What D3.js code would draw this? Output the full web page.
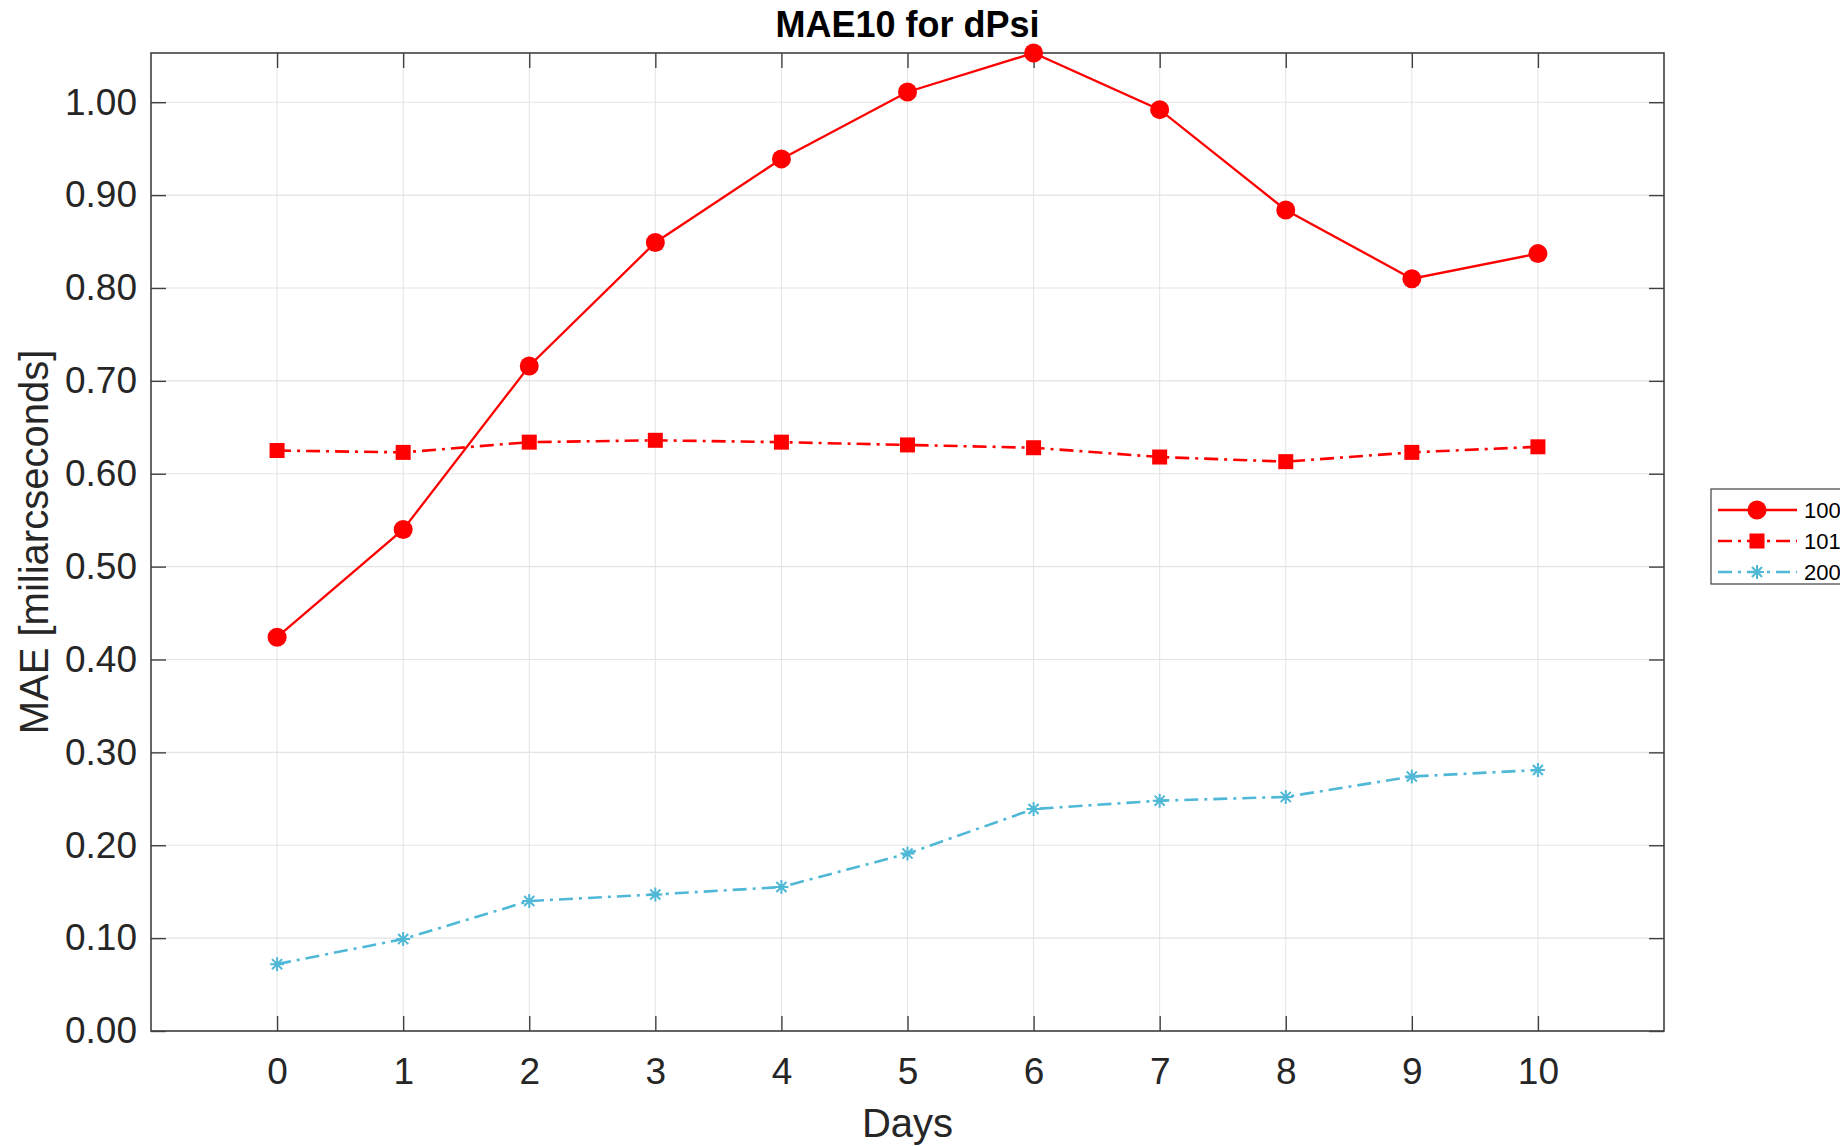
<!DOCTYPE html>
<html>
  <head>
    <script src="https://d3js.org/d3.v7.min.js"></script>
    <style>
      body { margin: 0; background: #fff; }
      svg { display: block; font-family: "Liberation Sans", Arial, Helvetica, sans-serif; }
    </style>
  </head>
  <body>
    <svg width="1840" height="1146"></svg>
    <script>
      var days = [0, 1, 2, 3, 4, 5, 6, 7, 8, 9, 10];
      var s100 = [0.424, 0.540, 0.716, 0.849, 0.939, 1.011, 1.053, 0.992, 0.884, 0.810, 0.837];
      var s101 = [0.625, 0.623, 0.634, 0.636, 0.634, 0.631, 0.628, 0.618, 0.613, 0.623, 0.629];
      var s200 = [0.072, 0.099, 0.140, 0.147, 0.155, 0.191, 0.239, 0.248, 0.252, 0.274, 0.281];
      var seriesNames = ['100', '101', '200'];
      var yTicks = [0, 0.1, 0.2, 0.3, 0.4, 0.5, 0.6, 0.7, 0.8, 0.9, 1.0];

      // plot box (window.top is read-only, so no "top" variable)
      var pL = 151, pR = 1664, pT = 53, pB = 1031;
      var axisColor = '#404040', gridColor = '#e3e3e3';
      var red = '#ff0000', cyan = '#4fb8d6';

      var svg = d3.select('svg');
      svg.append('rect').attr('width', 1840).attr('height', 1146).attr('fill', '#fff');

      var x = d3.scaleLinear().domain([-1, 11]).range([pL, pR]);
      var y = d3.scaleLinear().domain([0, d3.max(s100)]).range([pB, pT]);

      // grid
      svg.append('g').selectAll('line').data(days).enter().append('line')
        .attr('x1', d => x(d)).attr('x2', d => x(d))
        .attr('y1', pT).attr('y2', pB)
        .attr('stroke', gridColor).attr('stroke-width', 1);
      svg.append('g').selectAll('line').data(yTicks).enter().append('line')
        .attr('x1', pL).attr('x2', pR)
        .attr('y1', d => y(d)).attr('y2', d => y(d))
        .attr('stroke', gridColor).attr('stroke-width', 1.2);

      // axes (ticks inward, box with ticks on all sides)
      var tl = 15;
      var xb = d3.axisBottom(x).tickValues(days).tickSize(-tl).tickPadding(27).tickFormat(d3.format('d'));
      var xt = d3.axisTop(x).tickValues(days).tickSize(-tl).tickFormat('');
      var yl = d3.axisLeft(y).tickValues(yTicks).tickSize(-tl).tickPadding(14).tickFormat(d3.format('.2f'));
      var yr = d3.axisRight(y).tickValues(yTicks).tickSize(-tl).tickFormat('');

      function styleAxis(g) {
        g.selectAll('path').remove();
        g.selectAll('line').attr('stroke', axisColor).attr('stroke-width', 1.4);
        g.selectAll('text').attr('fill', '#262626').style('font-size', '37px')
          .style('font-family', '"Liberation Sans", Arial, sans-serif');
      }
      svg.append('g').attr('transform', 'translate(0,' + pB + ')').call(xb).call(styleAxis);
      svg.append('g').attr('transform', 'translate(0,' + pT + ')').call(xt).call(styleAxis);
      svg.append('g').attr('transform', 'translate(' + pL + ',0)').call(yl).call(styleAxis);
      svg.append('g').attr('transform', 'translate(' + pR + ',0)').call(yr).call(styleAxis);

      svg.append('rect').attr('x', pL).attr('y', pT)
        .attr('width', pR - pL).attr('height', pB - pT)
        .attr('fill', 'none').attr('stroke', axisColor).attr('stroke-width', 1.6);

      // asterisk marker like MATLAB '*'
      var star = {
        draw: function (ctx, size) {
          var r = Math.sqrt(size) / 2, q = r * 0.72;
          ctx.moveTo(0, -r); ctx.lineTo(0, r);
          ctx.moveTo(-r, 0); ctx.lineTo(r, 0);
          ctx.moveTo(-q, -q); ctx.lineTo(q, q);
          ctx.moveTo(-q, q); ctx.lineTo(q, -q);
        }
      };

      var series = [
        { name: seriesNames[0], values: s100, color: red, dash: null, width: 2.3, marker: 'circle' },
        { name: seriesNames[1], values: s101, color: red, dash: '14,6,3,6', width: 2.6, marker: 'square' },
        { name: seriesNames[2], values: s200, color: cyan, dash: '14,6,3,6', width: 2.6, marker: 'star' }
      ];

      var line = d3.line().x((d, i) => x(days[i])).y(d => y(d));

      function drawMarker(g, type, color) {
        if (type === 'circle') {
          g.append('circle').attr('r', 9.5).attr('fill', color);
        } else if (type === 'square') {
          g.append('rect').attr('x', -7.5).attr('y', -7.5).attr('width', 15).attr('height', 15).attr('fill', color);
        } else {
          g.append('path').attr('d', d3.symbol().type(star).size(196)())
            .attr('fill', 'none').attr('stroke', color).attr('stroke-width', 2);
        }
      }

      series.forEach(function (s) {
        svg.append('path').datum(s.values).attr('d', line)
          .attr('fill', 'none').attr('stroke', s.color).attr('stroke-width', s.width)
          .attr('stroke-dasharray', s.dash);
        svg.append('g').selectAll('g').data(s.values).enter().append('g')
          .attr('transform', (d, i) => 'translate(' + x(days[i]) + ',' + y(d) + ')')
          .each(function () { drawMarker(d3.select(this), s.marker, s.color); });
      });

      // title and labels
      svg.append('text').attr('x', (pL + pR) / 2).attr('y', 37)
        .attr('text-anchor', 'middle').attr('font-weight', 'bold')
        .style('font-size', '36px').attr('fill', '#000').text('MAE10 for dPsi');
      svg.append('text').attr('x', (pL + pR) / 2).attr('y', 1137)
        .attr('text-anchor', 'middle').style('font-size', '40px').attr('fill', '#262626').text('Days');
      svg.append('text').attr('transform', 'translate(48,' + (pT + pB) / 2 + ') rotate(-90)')
        .attr('text-anchor', 'middle').style('font-size', '40px').attr('fill', '#262626')
        .text('MAE [miliarcseconds]');

      // legend
      var lg = svg.append('g');
      lg.append('rect').attr('x', 1711).attr('y', 489).attr('width', 160).attr('height', 95)
        .attr('fill', '#fff').attr('stroke', axisColor).attr('stroke-width', 1.2);
      series.forEach(function (s, i) {
        var ly = 510 + i * 31;
        lg.append('line').attr('x1', 1718).attr('x2', 1797).attr('y1', ly).attr('y2', ly)
          .attr('stroke', s.color).attr('stroke-width', s.width).attr('stroke-dasharray', s.dash);
        var m = lg.append('g').attr('transform', 'translate(1757,' + ly + ')');
        drawMarker(m, s.marker, s.color);
        lg.append('text').attr('x', 1804).attr('y', ly + 8).style('font-size', '22px')
          .attr('fill', '#000').text(s.name);
      });
    </script>
  </body>
</html>
